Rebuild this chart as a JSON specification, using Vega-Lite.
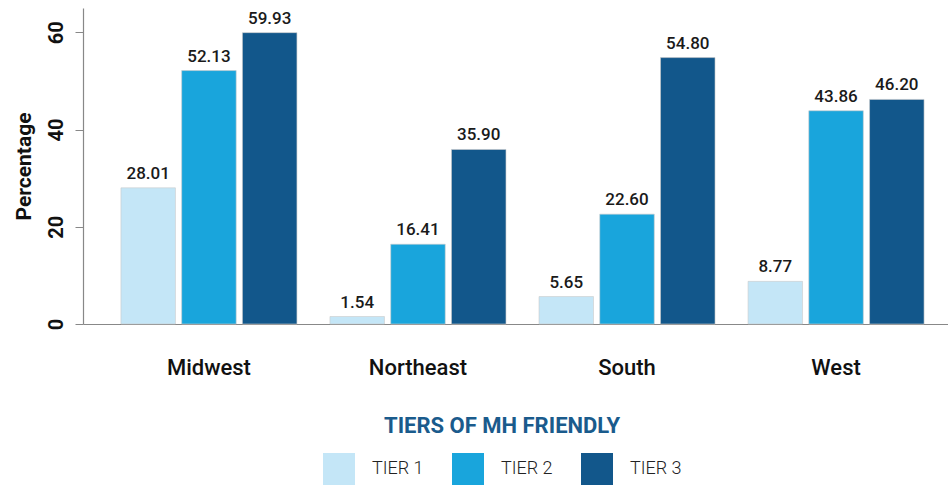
{
  "$schema": "https://vega.github.io/schema/vega-lite/v6.json",
  "width": 865,
  "height": 316,
  "autosize": "none",
  "padding": {"left": 83, "top": 8, "right": 0, "bottom": 161},
  "background": "white",
  "config": {
    "view": {"stroke": null},
    "font": "Roboto"
  },
  "data": {
    "values": [
      {"region": "Midwest", "tier": "TIER 1", "value": 28.01},
      {"region": "Midwest", "tier": "TIER 2", "value": 52.13},
      {"region": "Midwest", "tier": "TIER 3", "value": 59.93},
      {"region": "Northeast", "tier": "TIER 1", "value": 1.54},
      {"region": "Northeast", "tier": "TIER 2", "value": 16.41},
      {"region": "Northeast", "tier": "TIER 3", "value": 35.90},
      {"region": "South", "tier": "TIER 1", "value": 5.65},
      {"region": "South", "tier": "TIER 2", "value": 22.60},
      {"region": "South", "tier": "TIER 3", "value": 54.80},
      {"region": "West", "tier": "TIER 1", "value": 8.77},
      {"region": "West", "tier": "TIER 2", "value": 43.86},
      {"region": "West", "tier": "TIER 3", "value": 46.20}
    ]
  },
  "encoding": {
    "x": {
      "field": "region",
      "type": "nominal",
      "sort": ["Midwest", "Northeast", "South", "West"],
      "scale": {"paddingInner": 0.158, "paddingOuter": 0.148, "align": 0.613},
      "axis": {
        "title": null,
        "labelAngle": 0,
        "ticks": false,
        "labelFont": "Roboto",
        "labelFontSize": 22,
        "labelFontWeight": 500,
        "labelColor": "#111111",
        "labelPadding": 33,
        "domainColor": "#888888",
        "domainWidth": 1.2
      }
    },
    "xOffset": {
      "field": "tier",
      "type": "nominal",
      "scale": {"paddingInner": 0.103, "paddingOuter": 0}
    },
    "y": {
      "field": "value",
      "type": "quantitative",
      "scale": {"domain": [0, 65], "nice": false},
      "axis": {
        "title": "Percentage",
        "titleFont": "Roboto",
        "titleFontSize": 21,
        "titleFontWeight": "bold",
        "titleColor": "#111111",
        "titlePadding": 12,
        "values": [0, 20, 40, 60],
        "grid": false,
        "labelAngle": -90,
        "labelAlign": "center",
        "labelBaseline": "bottom",
        "labelFont": "Roboto",
        "labelFontSize": 20,
        "labelFontWeight": "bold",
        "labelColor": "#111111",
        "labelPadding": 9,
        "tickSize": 8,
        "tickColor": "#888888",
        "domainColor": "#888888",
        "domainWidth": 1.2
      }
    }
  },
  "layer": [
    {
      "mark": {"type": "bar", "stroke": "#cccccc", "strokeOpacity": 0.6, "strokeWidth": 1},
      "encoding": {
        "color": {
          "field": "tier",
          "type": "nominal",
          "scale": {"domain": ["TIER 1", "TIER 2", "TIER 3"], "range": ["#c4e6f7", "#19a5dc", "#12578b"]},
          "legend": {
            "title": "TIERS OF MH FRIENDLY",
            "orient": "none",
            "direction": "horizontal",
            "legendX": 240,
            "legendY": 408,
            "titleAnchor": "middle",
            "titleLimit": 600,
            "titleFont": "Roboto",
            "titleFontSize": 22,
            "titleFontWeight": "bold",
            "titleColor": "#1a5b8c",
            "titlePadding": 15,
            "symbolType": "square",
            "symbolSize": 1024,
            "symbolStrokeWidth": 0,
            "labelFont": "Roboto",
            "labelFontSize": 18,
            "labelFontWeight": 300,
            "labelColor": "#222222",
            "labelOffset": 17,
            "columnPadding": 28
          }
        }
      }
    },
    {
      "mark": {"type": "text", "baseline": "alphabetic", "dy": -9, "font": "Roboto", "fontSize": 17, "fontWeight": 500, "color": "#1a1a1a"},
      "encoding": {
        "text": {"field": "value", "type": "quantitative", "format": ".2f"}
      }
    }
  ]
}
